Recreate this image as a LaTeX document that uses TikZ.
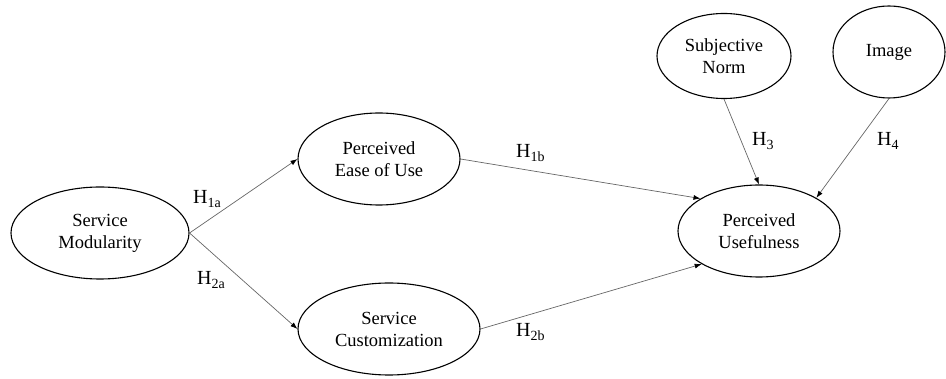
\documentclass[tikz,border=0pt]{standalone}
\usepackage{fontspec}
\setmainfont{Liberation Serif}
\usetikzlibrary{shapes.geometric,arrows.meta}
% hypothesis label: H with a lowered subscript
\newcommand{\hyplabel}[1]{H\raisebox{-4pt}{\fontsize{14}{14}\selectfont #1}}
\begin{document}
\begin{tikzpicture}[x=1pt,y=1pt,
  construct/.style={ellipse, draw=black, line width=1.1pt, inner sep=0pt,
    align=center, font=\fontsize{18.5}{22}\selectfont},
  link/.style={draw=black!60, line width=0.7pt,
    -{Latex[length=7pt,width=5pt,color=black]}},
  hyp/.style={font=\fontsize{20}{22}\selectfont, inner sep=0pt, anchor=base west}]
\useasboundingbox (0,0) rectangle (946,-379);

% constructs
\node[construct, minimum width=178pt, minimum height=92pt] (sm)   at (100,-233) {Service\\Modularity};
\node[construct, minimum width=162pt, minimum height=92pt] (peou) at (379,-159) {Perceived\\Ease of Use};
\node[construct, minimum width=182pt, minimum height=92pt] (sc)   at (389,-329) {Service\\Customization};
\node[construct, minimum width=162pt, minimum height=92pt] (pu)   at (759,-231) {Perceived\\Usefulness};
\node[construct, minimum width=134pt, minimum height=85pt] (sn)   at (724,-56)  {Subjective\\Norm};
\node[construct, minimum width=112pt, minimum height=92pt] (img)  at (889,-52)  {Image};

% hypothesised paths
\draw[link] (sm.east) -- (peou.west);
\draw[link] (sm.east) -- (sc.west);
\draw[link] (peou.east) -- (pu.151);
\draw[link] (sc.east) -- (pu.210);
\draw[link] (sn.south) -- (pu.north);
\draw[link] (img.south) -- (pu.30);

% path labels
\node[hyp] (h1a) at (193,-204) {\hyplabel{1a}};
\node[hyp] (h2a) at (197,-285) {\hyplabel{2a}};
\node[hyp] (h1b) at (516,-158) {\hyplabel{1b}};
\node[hyp] (h2b) at (516,-337) {\hyplabel{2b}};
\node[hyp] (h3)  at (752,-146) {\hyplabel{3}};
\node[hyp] (h4)  at (877,-146) {\hyplabel{4}};
\end{tikzpicture}
\end{document}
